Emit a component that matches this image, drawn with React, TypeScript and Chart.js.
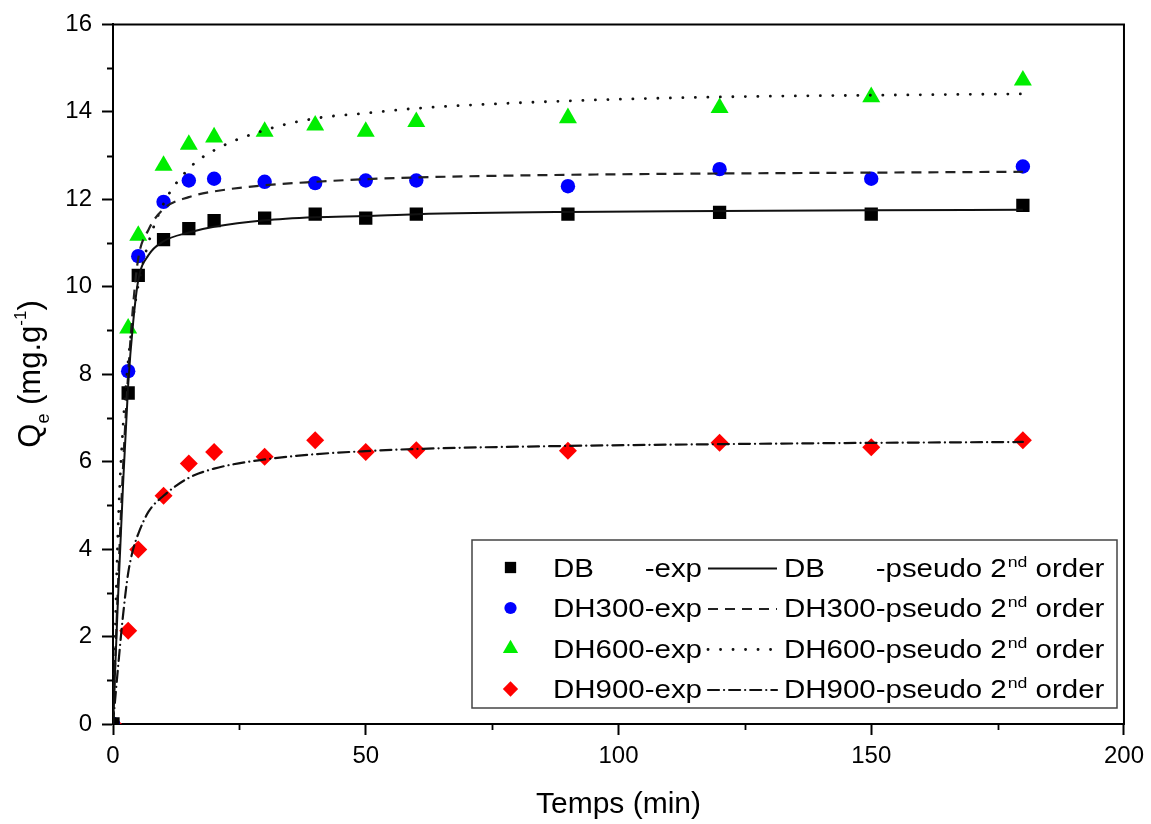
import React, { useEffect, useRef } from 'react';
import { Chart, registerables } from 'chart.js';

Chart.register(...registerables);

// ---------- data ----------
const expTimes = [0, 3, 5, 10, 15, 20, 30, 40, 50, 60, 90, 120, 150, 180];
const dbExp = [0, 7.57, 10.26, 11.08, 11.33, 11.51, 11.57, 11.66, 11.57, 11.66, 11.66, 11.7, 11.66, 11.86];
const dh300Exp = [0, 8.07, 10.7, 11.94, 12.43, 12.47, 12.4, 12.37, 12.43, 12.43, 12.3, 12.69, 12.47, 12.75];
const dh600Exp = [0, 9.05, 11.17, 12.77, 13.25, 13.42, 13.55, 13.69, 13.55, 13.77, 13.86, 14.09, 14.34, 14.72];
const dh900Exp = [0, 2.13, 3.99, 5.22, 5.96, 6.22, 6.11, 6.49, 6.22, 6.26, 6.25, 6.43, 6.33, 6.49];

const fitTimes = [0, 1, 2, 3, 4, 5, 7, 10, 15, 20, 30, 40, 50, 60, 90, 120, 150, 180];
const dbFit = [0, 2.9, 5.5, 7.75, 9.2, 10.15, 10.72, 11.04, 11.24, 11.37, 11.52, 11.59, 11.62, 11.66, 11.71, 11.73, 11.75, 11.76];
const dh300Fit = [0, 3.2, 5.9, 8.0, 9.6, 10.65, 11.3, 11.78, 12.05, 12.18, 12.32, 12.4, 12.46, 12.5, 12.56, 12.59, 12.61, 12.63];
const dh600Fit = [0, 4.46, 6.83, 8.3, 9.3, 10.04, 11.0, 11.9, 12.7, 13.12, 13.58, 13.85, 13.97, 14.08, 14.25, 14.34, 14.38, 14.41];
const dh900Fit = [0, 1.3, 2.5, 3.45, 4.0, 4.35, 4.85, 5.22, 5.63, 5.84, 6.05, 6.17, 6.24, 6.29, 6.36, 6.4, 6.43, 6.45];

const seriesNames = ['DB', 'DH300', 'DH600', 'DH900'];
const yMinorTicks = [1, 3, 5, 7, 9, 11, 13, 15];
const xMinorTicks = [25, 75, 125, 175];

// ---------- styles ----------
const FONT = '"Liberation Sans", Arial, sans-serif';
const markerColors = ['#000000', '#0000ff', '#00ee00', '#ff0000'];
const markerShapes = ['rect', 'circle', 'triangle', 'rectRot'];
const markerRadius = [9.4, 7.2, 10.4, 9];
const lineDashes = [[], [10, 7], [0.1, 12.4], [11, 5, 0.1, 5]];
const lineCaps = ['butt', 'butt', 'round', 'round'];
const lineWidths = [2, 2.2, 2.8, 2.2];
const lineColors = ['#111', '#222', '#111', '#111'];

const toPts = (xs: number[], ys: number[]) => xs.map((x, i) => ({ x, y: ys[i] }));

const expSeries = [dbExp, dh300Exp, dh600Exp, dh900Exp];
const fitSeries = [dbFit, dh300Fit, dh600Fit, dh900Fit];

function drawMarker(ctx: CanvasRenderingContext2D, shape: string, x: number, y: number, r: number, color: string) {
  ctx.save();
  ctx.fillStyle = color;
  ctx.beginPath();
  if (shape === 'rect') {
    const s = r * Math.SQRT1_2;
    ctx.rect(x - s, y - s, 2 * s, 2 * s);
  } else if (shape === 'circle') {
    ctx.arc(x, y, r, 0, Math.PI * 2);
  } else if (shape === 'triangle') {
    for (let k = 0; k < 3; k++) {
      const a = (k * 2 * Math.PI) / 3;
      const px = x + Math.sin(a) * r;
      const py = y - Math.cos(a) * r;
      if (k === 0) ctx.moveTo(px, py);
      else ctx.lineTo(px, py);
    }
    ctx.closePath();
  } else {
    ctx.moveTo(x - r, y);
    ctx.lineTo(x, y - r);
    ctx.lineTo(x + r, y);
    ctx.lineTo(x, y + r);
    ctx.closePath();
  }
  ctx.fill();
  ctx.restore();
}

const decorPlugin = {
  id: 'decor',
  afterDraw(chart: any) {
    const { ctx, chartArea: a, scales } = chart;
    const xs = scales.x;
    const ys = scales.y;
    ctx.save();
    // top and right frame
    ctx.strokeStyle = '#000';
    ctx.lineWidth = 2;
    ctx.beginPath();
    ctx.moveTo(a.left - 1, a.top);
    ctx.lineTo(a.right, a.top);
    ctx.lineTo(a.right, a.bottom + 1);
    ctx.stroke();

    // minor ticks
    ctx.lineWidth = 1.8;
    ctx.beginPath();
    for (const v of yMinorTicks) {
      const py = Math.round(ys.getPixelForValue(v)) + 0.5;
      ctx.moveTo(a.left - 6, py);
      ctx.lineTo(a.left, py);
    }
    for (const v of xMinorTicks) {
      const px = Math.round(xs.getPixelForValue(v)) + 0.5;
      ctx.moveTo(px, a.bottom);
      ctx.lineTo(px, a.bottom + 6);
    }
    ctx.stroke();

    ctx.fillStyle = '#000';
    // x title
    ctx.font = `30px ${FONT}`;
    ctx.textAlign = 'center';
    ctx.textBaseline = 'alphabetic';
    ctx.fillText('Temps (min)', (a.left + a.right) / 2, 813);

    // y title with sub/superscripts
    ctx.save();
    ctx.translate(40, 374);
    ctx.rotate(-Math.PI / 2);
    ctx.textAlign = 'left';
    const parts = [
      { t: 'Q', size: 31, dy: 0 },
      { t: 'e', size: 18, dy: 9 },
      { t: ' (mg.g', size: 31, dy: 0 },
      { t: '-1', size: 17, dy: -14 },
      { t: ')', size: 31, dy: 0 },
    ];
    let total = 0;
    const widths = parts.map((p) => {
      ctx.font = `${p.size}px ${FONT}`;
      const w = ctx.measureText(p.t).width;
      total += w;
      return w;
    });
    let cx = -total / 2;
    parts.forEach((p, i) => {
      ctx.font = `${p.size}px ${FONT}`;
      ctx.fillText(p.t, cx, p.dy);
      cx += widths[i];
    });
    ctx.restore();

    // legend
    const box = { l: 472, t: 540, r: 1117, b: 708 };
    ctx.fillStyle = '#fff';
    ctx.fillRect(box.l, box.t, box.r - box.l, box.b - box.t);
    ctx.strokeStyle = '#444';
    ctx.lineWidth = 1.5;
    ctx.strokeRect(box.l, box.t, box.r - box.l, box.b - box.t);

    const mainFont = `25px ${FONT}`;
    const supFont = `15px ${FONT}`;
    ctx.font = mainFont;
    const sx = 149 / ctx.measureText('DH300-exp').width;
    const textW = (s: string, f: string) => {
      ctx.font = f;
      return ctx.measureText(s).width * sx;
    };
    const put = (s: string, x: number, yb: number, f: string) => {
      ctx.save();
      ctx.font = f;
      ctx.textAlign = 'left';
      ctx.textBaseline = 'alphabetic';
      ctx.fillStyle = '#000';
      ctx.translate(x, yb);
      ctx.scale(sx, 1);
      ctx.fillText(s, 0, 0);
      ctx.restore();
    };
    const expStart = 553;
    const expEnd = expStart + textW('DH300-exp', mainFont);
    const psStart = 784;
    const sufMain = '-pseudo 2';
    const sufSup = 'nd';
    const sufTail = ' order';
    const sufW = textW(sufMain, mainFont) + textW(sufSup, supFont) + textW(sufTail, mainFont);
    const psEnd = psStart + textW('DH300', mainFont) + sufW;
    const baselines = [576.5, 617, 657.5, 698];

    seriesNames.forEach((name, i) => {
      const yb = baselines[i];
      const yc = yb - 9;
      drawMarker(ctx, markerShapes[i], 510.5, yc, markerRadius[i] * 0.85, markerColors[i]);
      put(name, expStart, yb, mainFont);
      put('-exp', expEnd - textW('-exp', mainFont), yb, mainFont);
      // line sample
      ctx.save();
      ctx.strokeStyle = lineColors[i];
      ctx.lineWidth = lineWidths[i];
      ctx.lineCap = lineCaps[i] as CanvasLineCap;
      ctx.setLineDash(lineDashes[i]);
      ctx.beginPath();
      ctx.moveTo(708, yc + 1);
      ctx.lineTo(777, yc + 1);
      ctx.stroke();
      ctx.restore();
      put(name, psStart, yb, mainFont);
      let px = psEnd - sufW;
      put(sufMain, px, yb, mainFont);
      px += textW(sufMain, mainFont);
      put(sufSup, px + 1, yb - 10, supFont);
      px += textW(sufSup, supFont) + 1;
      put(sufTail, px, yb, mainFont);
    });

    ctx.restore();
  },
};

export default function App() {
  const ref = useRef<HTMLCanvasElement | null>(null);

  useEffect(() => {
    document.body.style.margin = '0';
    const canvas = ref.current;
    if (!canvas) return;

    const fitSets = fitSeries.map((ys, i) => ({
      label: `${seriesNames[i]}-pseudo 2nd order`,
      data: toPts(fitTimes, ys),
      showLine: true,
      borderColor: lineColors[i],
      borderWidth: lineWidths[i],
      borderDash: lineDashes[i],
      borderCapStyle: lineCaps[i],
      pointRadius: 0,
      pointHoverRadius: 0,
      fill: false,
      cubicInterpolationMode: 'monotone',
      order: 0,
    }));
    const expSets = expSeries.map((ys, i) => ({
      label: `${seriesNames[i]}-exp`,
      data: toPts(expTimes, ys),
      showLine: false,
      pointStyle: markerShapes[i],
      pointRadius: markerRadius[i],
      pointHoverRadius: markerRadius[i],
      pointBackgroundColor: markerColors[i],
      pointBorderColor: markerColors[i],
      pointBorderWidth: 0,
      order: 1,
    }));

    const tickFont = { family: FONT, size: 24 };

    const chart = new Chart(canvas, {
      type: 'scatter',
      data: { datasets: [...fitSets, ...expSets] as any },
      options: {
        animation: false,
        responsive: false,
        devicePixelRatio: 1,
        layout: { padding: { top: 24, right: 27, left: 0, bottom: 0 } },
        plugins: { legend: { display: false }, tooltip: { enabled: false } },
        scales: {
          x: {
            type: 'linear',
            min: 0,
            max: 200,
            afterFit: (s: any) => {
              s.height = 100;
            },
            ticks: { stepSize: 50, font: tickFont, color: '#000', padding: 7, maxRotation: 0 },
            grid: {
              drawOnChartArea: false,
              drawTicks: true,
              tickLength: 11,
              tickWidth: 2,
              tickColor: '#000',
              color: '#000',
            },
            border: { display: true, color: '#000', width: 2 },
          },
          y: {
            type: 'linear',
            min: 0,
            max: 16,
            afterFit: (s: any) => {
              s.width = 113;
            },
            ticks: { stepSize: 2, font: tickFont, color: '#000', padding: 10 },
            grid: {
              drawOnChartArea: false,
              drawTicks: true,
              tickLength: 11,
              tickWidth: 2,
              tickColor: '#000',
              color: '#000',
            },
            border: { display: true, color: '#000', width: 2 },
          },
        },
      } as any,
      plugins: [decorPlugin],
    });

    return () => chart.destroy();
  }, []);

  return <canvas ref={ref} width={1151} height={824} style={{ display: 'block' }} />;
}
